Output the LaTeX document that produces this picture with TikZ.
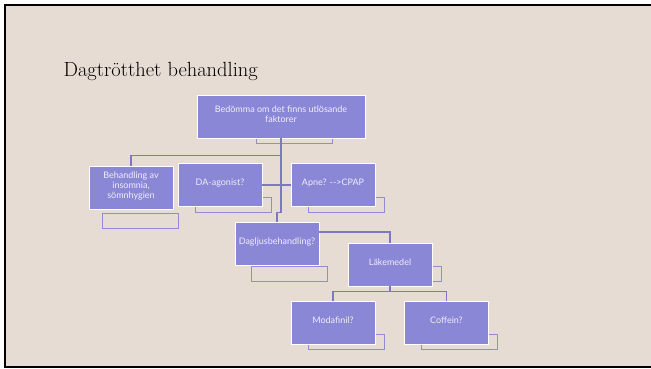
\documentclass[tikz,border=0pt]{standalone}
\usepackage{fontspec}
\newfontfamily\boxfont{Lato}
\definecolor{slidebg}{HTML}{E7DCD3}
\definecolor{boxfill}{HTML}{8A87D7}
\definecolor{boxtext}{HTML}{F0EEFA}
\definecolor{linkcol}{HTML}{7D78C2}
\definecolor{tagcol}{HTML}{908CD8}

\begin{document}
\begin{tikzpicture}[x=1pt,y=-1pt,
    box/.style={rectangle,draw=white,line width=0.9pt,fill=boxfill,text=boxtext,
        minimum width=84pt,minimum height=43pt,inner sep=2pt,align=center,
        text depth=5pt,font=\boxfont\fontsize{9}{9.8}\selectfont},
    tagbox/.style={rectangle,draw=tagcol,line width=0.9pt,minimum width=76pt,
        minimum height=15pt,inner sep=0pt,anchor=north west},
    link/.style={draw=linkcol,line width=1.2pt}]
            \useasboundingbox (0,0) rectangle (651,369);
            \fill[white] (0,0) rectangle (651,369);
            \fill[slidebg] (5,5) rectangle (651,367);
            \draw[black,line width=2pt] (651,5) -- (5,5) -- (5,367) -- (651,367);

            \node[anchor=base west,font=\fontsize{20.5}{24}\selectfont] at (60,77) (title) {Dagtrötthet behandling};

            % small text boxes under the shapes
            \node[tagbox] at (256,128) (tagtop) {};
            \node[tagbox] at (102,213) (tagbeh) {};
            \node[tagbox] at (195,197) (tagda) {};
            \node[tagbox] at (308,197) (tagapne) {};
            \node[tagbox] at (251,266) (tagdag) {};
            \node[tagbox] at (365,266) (taglak) {};
            \node[tagbox] at (308,334) (tagmoda) {};
            \node[tagbox] at (421,334) (tagcoff) {};

            \node[box,minimum width=168pt] at (281,116.5) (top) {Bedömma om det finns utlösande\\faktorer};
            \node[box] at (131,187.5) (beh) {Behandling av\\insomnia,\\sömnhygien};
            \node[box] at (220,185) (da) {DA-agonist?};
            \node[box] at (333,185) (apne) {Apne? {-}{-}>CPAP};
            \node[box] at (277,243.5) (dag) {Dagljusbehandling?};
            \node[box] at (390,264.5) (lak) {Läkemedel};
            \node[box] at (333,323) (moda) {Modafinil?};
            \node[box] at (446.5,323) (coff) {Coffein?};

            \draw[link] (top.south) -- ++(0,17) -| (beh.north);
            \draw[link] (top.south) -- ++(0,74) -| (dag.north);
            \draw[link] (da.east) -- (apne.west);
            \draw[link] ([yshift=11.5pt]dag.east) -| (lak.north);
            \draw[link] (lak.south) -- ++(0,5) -| (moda.north);
            \draw[link] (lak.south) -- ++(0,5) -| (coff.north);
\end{tikzpicture}
\end{document}
